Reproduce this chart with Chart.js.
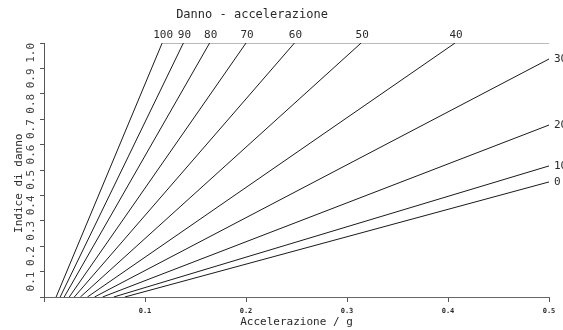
<!DOCTYPE html>
<html>
<head>
<meta charset="utf-8">
<script src="https://cdn.jsdelivr.net/npm/chart.js@4/dist/chart.umd.min.js"></script>
<style>
  html, body { margin: 0; padding: 0; background: #fff; }
  #wrap { width: 563px; height: 330px; position: relative; }
</style>
</head>
<body>
<div id="wrap"><canvas id="c" width="563" height="330"></canvas></div>
<script>
// Damage level of each curve (label drawn at its upper end)
const levels = [100, 90, 80, 70, 60, 50, 40, 30, 20, 10, 0];
// Acceleration (g) where each curve leaves the zero-damage axis
const startAccel = [0.012, 0.016, 0.020, 0.025, 0.030, 0.036, 0.043, 0.050, 0.058, 0.069, 0.080];
// Upper end of each curve: acceleration (g) and damage index
const endAccel = [0.117, 0.138, 0.164, 0.200, 0.248, 0.314, 0.407, 0.5, 0.5, 0.5, 0.5];
const endIndex = [1, 1, 1, 1, 1, 1, 1, 0.937, 0.677, 0.516, 0.453];
// Axis ranges and tick steps
const xMax = 0.5, xStep = 0.1;
const yMax = 1.0, yStep = 0.1;

const MONO = '"DejaVu Sans Mono", "Liberation Mono", monospace';
const INK = '#2a2a2a';

const datasets = levels.map((lv, i) => ({
  label: String(lv),
  data: [{ x: startAccel[i], y: 0 }, { x: endAccel[i], y: endIndex[i] }],
  showLine: true,
  borderColor: '#1a1a1a',
  borderWidth: 1,
  pointRadius: 0,
  fill: false
}));
// Upper reference line (damage index = 1) from the steepest curve to the right edge
datasets.push({
  label: 'top',
  data: [{ x: endAccel[0], y: yMax }, { x: xMax, y: yMax }],
  showLine: true,
  borderColor: '#777',
  borderWidth: 1,
  pointRadius: 0,
  fill: false
});

const curveLabels = {
  id: 'curveLabels',
  afterDatasetsDraw(chart) {
    const { ctx, scales: { x, y } } = chart;
    ctx.save();
    ctx.fillStyle = INK;
    ctx.font = '11px ' + MONO;
    levels.forEach((lv, i) => {
      const px = x.getPixelForValue(endAccel[i]);
      const py = y.getPixelForValue(endIndex[i]);
      if (endIndex[i] >= yMax) {
        ctx.textAlign = 'center';
        ctx.textBaseline = 'bottom';
        ctx.fillText(String(lv), px + 1, py - 2);
      } else {
        ctx.textAlign = 'left';
        ctx.textBaseline = 'middle';
        ctx.fillText(String(lv), px + 5, py);
      }
    });
    // Heading above the chart
    ctx.font = '12px ' + MONO;
    ctx.textAlign = 'center';
    ctx.textBaseline = 'middle';
    ctx.fillText('Danno - accelerazione', 252, 15);
    ctx.restore();
  }
};

new Chart(document.getElementById('c'), {
  type: 'scatter',
  data: { datasets },
  plugins: [curveLabels],
  options: {
    responsive: false,
    animation: false,
    events: [],
    layout: { padding: { top: 43, right: 14, left: 13, bottom: 0 } },
    plugins: { legend: { display: false }, tooltip: { enabled: false }, title: { display: false } },
    scales: {
      x: {
        type: 'linear',
        min: 0, max: xMax,
        border: { display: true, color: '#666', width: 1 },
        grid: { drawOnChartArea: false, drawTicks: true, tickLength: 5, color: '#555' },
        ticks: {
          stepSize: xStep,
          padding: 5,
          color: INK,
          font: { family: MONO, size: 7, weight: 'bold' },
          maxRotation: 0,
          callback: v => (v === 0 ? '' : v.toFixed(1))
        },
        title: {
          display: true,
          text: 'Accelerazione / g',
          color: INK,
          font: { family: MONO, size: 11 },
          padding: { top: 0, bottom: 1 }
        },
        afterFit: s => { s.height = 33; }
      },
      y: {
        type: 'linear',
        min: 0, max: yMax,
        border: { display: true, color: '#555', width: 1 },
        grid: { drawOnChartArea: false, drawTicks: true, tickLength: 4, color: '#555' },
        ticks: {
          stepSize: yStep,
          padding: 9,
          color: '#444',
          font: { family: MONO, size: 11 },
          minRotation: 90,
          maxRotation: 90,
          callback: v => (v === 0 ? '' : v.toFixed(1))
        },
        title: {
          display: true,
          text: 'Indice di danno\u00a0\u00a0\u00a0\u00a0',
          color: INK,
          font: { family: MONO, size: 11 },
          padding: { top: 0, bottom: 2 }
        },
        afterFit: s => { s.width = 31; }
      }
    }
  }
});
</script>
</body>
</html>
